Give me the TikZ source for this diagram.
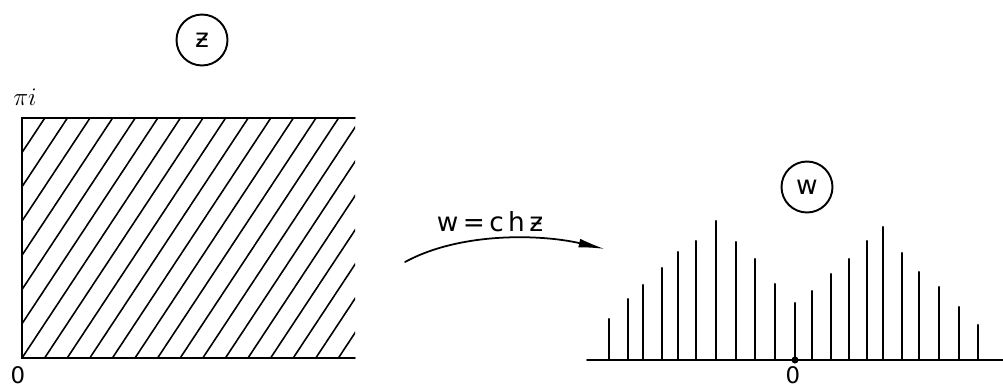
\documentclass[tikz,border=0pt]{standalone}
\usepackage{fontspec}
\setmainfont{DejaVu Sans}
\usetikzlibrary{arrows.meta}

\begin{document}
\begin{tikzpicture}[x=0.02cm, y=-0.02cm, >={Latex[length=15pt,width=5pt]}, line cap=round,
		every node/.style={font=\fontsize{15}{18}\selectfont},
		plane/.style={circle, draw, line width=1.1pt, minimum size=1.02cm, inner sep=0pt},
		origin/.style={font=\fontsize{13}{15}\selectfont, inner sep=0pt},
		stem/.style={line width=1.2pt}]
		\useasboundingbox (0,0) rectangle (1003,389);
		% z-plane: hatched half-strip
		\begin{scope}
			\clip (22,118) rectangle (355,358);
			\foreach \b in {-7,...,14}
				\draw[line width=0.9pt] (22+\b*22.6,358) -- ++(200,-303);
		\end{scope}
		\draw[line width=1.1pt] (355,118) -- (22,118) -- (22,358) -- (355,358);
		\node[plane] (zplane) at (202,40) {ƶ};
		\node (pii) at (25,97) {$\pi i$};
		\node[origin] (zzero) at (18,375) {0};
		% the map
		\coordinate (mapstart) at (405,262);
		\coordinate (mapend) at (605,249);
		\draw[->, line width=1pt] (mapstart) .. controls (460,232) and (540,234) .. (mapend);
		\node (maplabel) at (490,222) {w\,=\,c\,h\,ƶ};
		% w-plane: slits
		\draw[line width=1.1pt] (587,360) -- (1003,360);
		\foreach \x/\t in {609/319, 628/299, 643/285, 662/268, 678/252, 696/241, 716/221,
			736/242, 755/259, 775/284, 795/303, 812/291, 831/274, 849/259, 867/241,
			883/227, 902/253, 919/272, 939/287, 959/307, 978/325}
			\draw[stem] (\x,360) -- (\x,\t);
		\fill (795,360) circle (3.5);
		\node[origin] (wzero) at (793,375) {0};
		\node[plane] (wplane) at (807,187) {w};
	\end{tikzpicture}
\end{document}
